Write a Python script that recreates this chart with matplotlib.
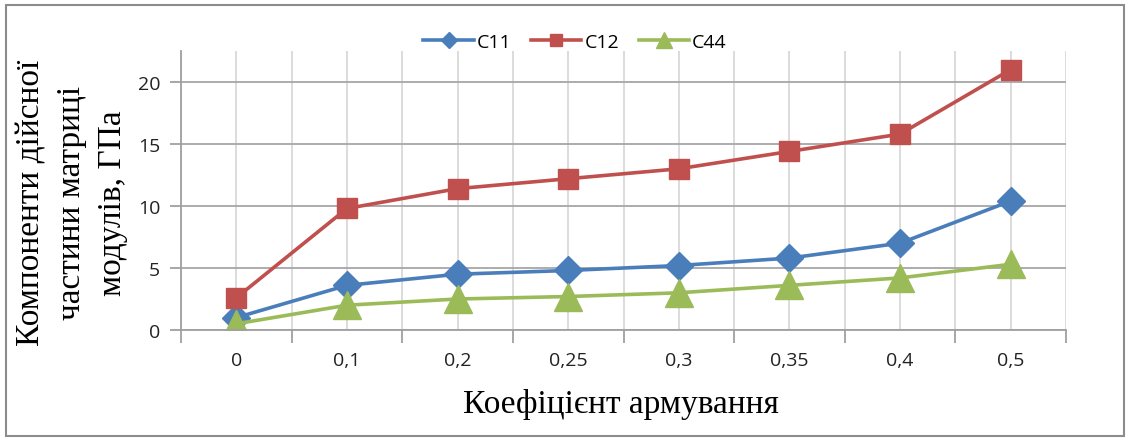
import numpy as np
import matplotlib
matplotlib.use('Agg')
import matplotlib.pyplot as plt
from matplotlib.patches import Rectangle

categories = ['0', '0,1', '0,2', '0,25', '0,3', '0,35', '0,4', '0,5']
c11 = [1.0, 3.6, 4.5, 4.8, 5.2, 5.8, 7.0, 10.4]
c12 = [2.6, 9.8, 11.4, 12.2, 13.0, 14.4, 15.8, 21.0]
c44 = [0.5, 2.0, 2.5, 2.7, 3.0, 3.6, 4.2, 5.3]

W, H = 1130, 439
fig = plt.figure(figsize=(W / 100, H / 100), dpi=100)
ax = fig.add_axes([181 / W, 1 - 331 / H, (1066 - 181) / W, (331 - 52) / H])

x = np.arange(len(categories))
ax.plot(x, c11, color='#4a7ebb', lw=2.6, marker='D', ms=14, label='C11')
ax.plot(x, c12, color='#c0504d', lw=2.6, marker='s', ms=14.5, label='C12')
ax.plot(x, c44, color='#9bbb59', lw=2.6, marker='^', ms=20, label='C44')

ax.set_xlim(-0.5, len(categories) - 0.5)
ax.set_ylim(0, 22.5)
ax.set_yticks([0, 5, 10, 15, 20])
ax.set_xticks(x)
ax.set_xticklabels(categories)
ax.set_xticks(np.arange(-0.5, len(categories), 1), minor=True)

ax.tick_params(axis='x', which='major', length=0, pad=15, labelsize=14, colors='#222222')
ax.tick_params(axis='x', which='minor', length=9, width=1.3, color='#a0a0a0', direction='out')
ax.tick_params(axis='y', length=8, width=1.3, color='#a0a0a0', pad=7, labelsize=14, labelcolor='#222222')

ax.grid(axis='x', which='both', color='#d9d9d9', lw=1.3)
ax.grid(axis='y', which='major', color='#a6a6a6', lw=1.3)
ax.set_axisbelow(True)
for s in ['top', 'right']:
    ax.spines[s].set_visible(False)
for s in ['left', 'bottom']:
    ax.spines[s].set_color('#a0a0a0')
    ax.spines[s].set_linewidth(1.3)
for lab in ax.get_xticklabels() + ax.get_yticklabels():
    lab.set_family('Open Sans')

fig.legend(loc='center', bbox_to_anchor=(575 / W, 1 - 43 / H), ncol=3, frameon=False,
           handlelength=2.6, handletextpad=0.15, columnspacing=1.0,
           prop={'family': 'Open Sans', 'size': 14}, markerscale=0.6)

fig.text(621 / W, 1 - 405 / H, 'Коефіцієнт армування', family='Liberation Serif',
         fontsize=24, ha='center', va='center')
fig.text(72 / W, 1 - 203 / H, 'Компоненти дійсної\nчастини матриці\nмодулів, ГПа',
         family='Liberation Serif', fontsize=24, rotation=90, ha='center', va='center',
         multialignment='center', linespacing=1.42)

fig.patches.append(Rectangle((6 / W, 2 / H), 1118 / W, 431 / H, transform=fig.transFigure,
                             fill=False, edgecolor='#8c8c8c', lw=1.5))

fig.savefig('out.png', dpi=100)
